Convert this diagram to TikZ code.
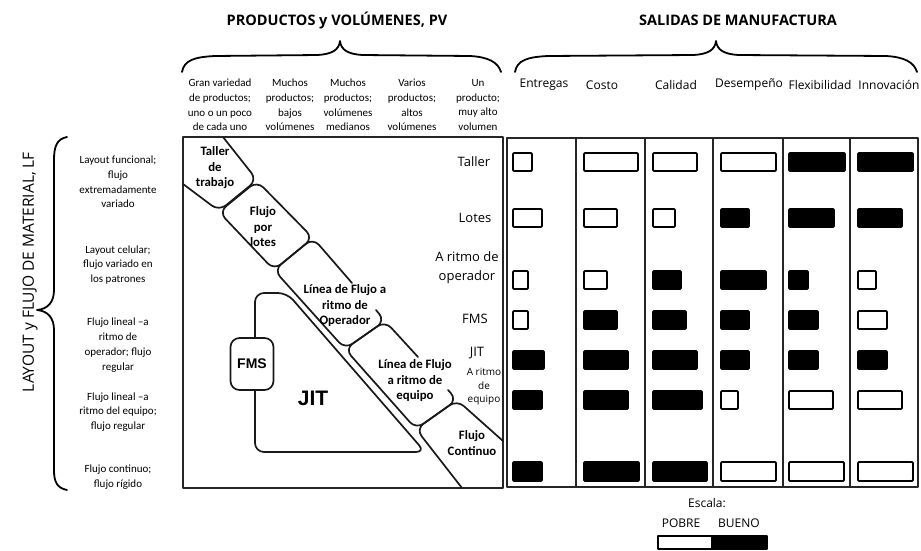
\documentclass[tikz,border=0pt]{standalone}
\usepackage{fontspec}
\setmainfont{Open Sans}
\newfontfamily\carl{Carlito}
\newfontfamily\libsans{Liberation Sans}
\begin{document}
\begin{tikzpicture}[x=1pt,y=-1pt, line cap=round, line join=round,
  frame/.style={draw=black!85, line width=1.7pt},
  shp/.style={draw=black!90, line width=1.7pt, rounded corners=9pt},
  brc/.style={draw=black, line width=1.8pt},
  small/.style={font=\carl\fontsize{11}{14.8}\selectfont, align=center, inner sep=0pt},
  blab/.style={font=\carl\bfseries\fontsize{12.8}{15.5}\selectfont, align=center, inner sep=0pt},
  rlab/.style={font=\fontsize{13}{19}\selectfont, align=center, inner sep=0pt},
  head/.style={font=\fontsize{12}{14}\selectfont, inner sep=0pt},
  ttl/.style={font=\bfseries\fontsize{14.5}{17}\selectfont, inner sep=0pt},
  ob/.style={draw=black, line width=1.8pt, fill=white, rounded corners=1pt},
  fb/.style={draw=black, line width=1.8pt, fill=black, rounded corners=1pt}]
\useasboundingbox (0,0) rectangle (921,551);

% titles and braces
\node[ttl] (tpv) at (337,20) {PRODUCTOS y VOLÚMENES, PV};
\node[ttl] (tsm) at (738,20) {SALIDAS DE MANUFACTURA};
\draw[brc] (182,72) .. controls (184,60) and (195,57) .. (215,56) -- (318,55) .. controls (332,54) and (339,50) .. (340,41) .. controls (341,50) and (348,54) .. (362,55) -- (470,56) .. controls (488,57) and (498,62) .. (501,72);
\draw[brc] (515,72) .. controls (517,60) and (528,57) .. (548,56) -- (694,55) .. controls (708,54) and (715,50) .. (716,41) .. controls (717,50) and (724,54) .. (738,55) -- (886,56) .. controls (904,57) and (914,62) .. (917,72);
\draw[brc] (67,137) .. controls (57,139) and (54,146) .. (54,160) -- (54,290) .. controls (54,302) and (48,309) .. (37,310) .. controls (48,311) and (54,318) .. (54,330) -- (54,470) .. controls (54,482) and (57,488) .. (67,490);
\node[font=\fontsize{15.5}{18}\selectfont, rotate=90, inner sep=0pt] (tlf) at (30,272) {LAYOUT y FLUJO DE MATERIAL, LF};

% PV column headers
\node[small] (pv1) at (220,105) {Gran variedad\\de productos;\\uno o un poco\\de cada uno};
\node[small] (pv2) at (290,105) {Muchos\\productos;\\bajos\\volúmenes};
\node[small] (pv3) at (348,105) {Muchos\\productos;\\volúmenes\\medianos};
\node[small] (pv4) at (412,105) {Varios\\productos;\\altos\\volúmenes};
\node[small] (pv5) at (478,105) {Un\\producto;\\muy alto\\volumen};

% output headers
\node[head] (h1) at (544,85) {Entregas};
\node[head] (h2) at (602,85) {Costo};
\node[head] (h3) at (676,85) {Calidad};
\node[head] (h4) at (749,85) {Desempeño};
\node[head] (h5) at (820,85) {Flexibilidad};
\node[head] (h6) at (889,85) {Innovación};

% LF row labels
\node[small] (lf1) at (118,182) {Layout funcional;\\flujo\\extremadamente\\variado};
\node[small] (lf2) at (118,265) {Layout celular;\\flujo variado en\\los patrones};
\node[small] (lf3) at (118,345) {Flujo lineal –a\\ritmo de\\operador; flujo\\regular};
\node[small] (lf4) at (118,412) {Flujo lineal –a\\ritmo del equipo;\\flujo regular};
\node[small] (lf5) at (118,477) {Flujo continuo;\\flujo rígido};

% frames
\draw[frame] (183,137) rectangle (503,488);
\draw[frame] (507,138) rectangle (918,487);
\foreach \cx in {576,645,713,783,850} \draw[frame] (\cx,138) -- (\cx,487);

% diagonal band
\draw[shp] (223,137) -- (257,180) -- (219,211) -- (183,184);
\draw[shp] (257,181) -- (313,238) -- (274,270) -- (219,212) -- cycle;
\draw[shp] (352,283) -- (313,238) -- (274,270) -- (345,349) -- (385,321) -- (376,310);
\draw[shp] (418,357) -- (385,321) -- (345,349) -- (416,429) -- (457,400) -- (448,390);
\draw[shp] (503,441) -- (457,400) -- (416,429) -- (462,488);
\draw[shp] (255,293) -- (287,293) -- (425,452) -- (255,452) -- cycle;
\node[draw=black!90, line width=1.7pt, rounded corners=9pt, fill=white, minimum width=43pt, minimum height=52pt, inner sep=0pt,
  font=\libsans\bfseries\fontsize{14}{16}\selectfont] (fms) at (252,364) {FMS};
\node[font=\libsans\bfseries\fontsize{21}{23}\selectfont, inner sep=0pt] (jit) at (313,398) {JIT};

\node[blab] (bt) at (215,168) {Taller\\de\\trabajo};
\node[blab] (bl) at (263,227) {Flujo\\por\\lotes};
\node[blab] (bo) at (345,306) {Línea de Flujo a\\ritmo de\\Operador};
\node[blab] (be) at (415,381) {Línea de Flujo\\a ritmo de\\equipo};
\node[blab] (bc) at (472,443) {Flujo\\Continuo};

% row labels in the left box
\node[rlab] (r1) at (474,162) {Taller};
\node[rlab] (r2) at (475,218) {Lotes};
\node[rlab] (r3) at (467,268) {A ritmo de\\operador};
\node[rlab] (r4) at (475,319) {FMS};
\node[rlab] (r5) at (477,353) {JIT};
\node[rlab, font=\fontsize{10}{13.5}\selectfont] (r6) at (484,387) {A ritmo\\de\\equipo};

% bars
\draw[ob] (513,153) rectangle (532,171);
\draw[ob] (584,153) rectangle (638,171);
\draw[ob] (653,153) rectangle (697,171);
\draw[ob] (721,153) rectangle (776,171);
\draw[fb] (789,153) rectangle (845,171);
\draw[fb] (858,153) rectangle (913,171);

\draw[ob] (513,209) rectangle (542,227);
\draw[ob] (584,209) rectangle (617,227);
\draw[ob] (653,209) rectangle (675,227);
\draw[fb] (721,209) rectangle (749,227);
\draw[fb] (789,209) rectangle (834,227);
\draw[fb] (858,209) rectangle (902,227);

\draw[ob] (513,271) rectangle (528,289);
\draw[ob] (584,271) rectangle (607,289);
\draw[fb] (653,271) rectangle (681,289);
\draw[fb] (721,271) rectangle (766,289);
\draw[fb] (789,271) rectangle (808,289);
\draw[ob] (858,271) rectangle (876,289);

\draw[ob] (513,311) rectangle (528,329);
\draw[fb] (584,311) rectangle (617,329);
\draw[fb] (653,311) rectangle (686,329);
\draw[fb] (721,311) rectangle (749,329);
\draw[fb] (789,311) rectangle (818,329);
\draw[ob] (858,311) rectangle (887,329);

\draw[fb] (513,351) rectangle (544,369);
\draw[fb] (584,351) rectangle (628,369);
\draw[fb] (653,351) rectangle (697,369);
\draw[fb] (721,351) rectangle (749,369);
\draw[fb] (789,351) rectangle (818,369);
\draw[fb] (858,351) rectangle (887,369);

\draw[fb] (513,391) rectangle (542,409);
\draw[fb] (584,391) rectangle (628,409);
\draw[fb] (653,391) rectangle (702,409);
\draw[ob] (721,391) rectangle (738,409);
\draw[ob] (789,391) rectangle (833,409);
\draw[ob] (858,391) rectangle (902,409);

\draw[fb] (513,462) rectangle (542,481);
\draw[fb] (584,462) rectangle (639,481);
\draw[fb] (653,462) rectangle (707,481);
\draw[ob] (721,462) rectangle (776,481);
\draw[ob] (789,462) rectangle (844,481);
\draw[ob] (858,462) rectangle (913,481);

% legend
\node[head] (esc) at (707,503) {Escala:};
\node[head] (pob) at (681,523) {POBRE};
\node[head] (bue) at (739,523) {BUENO};
\draw[ob, rounded corners=0pt] (658,536) rectangle (712,549);
\draw[fb, rounded corners=0pt] (712,536) rectangle (767,549);
\end{tikzpicture}
\end{document}
